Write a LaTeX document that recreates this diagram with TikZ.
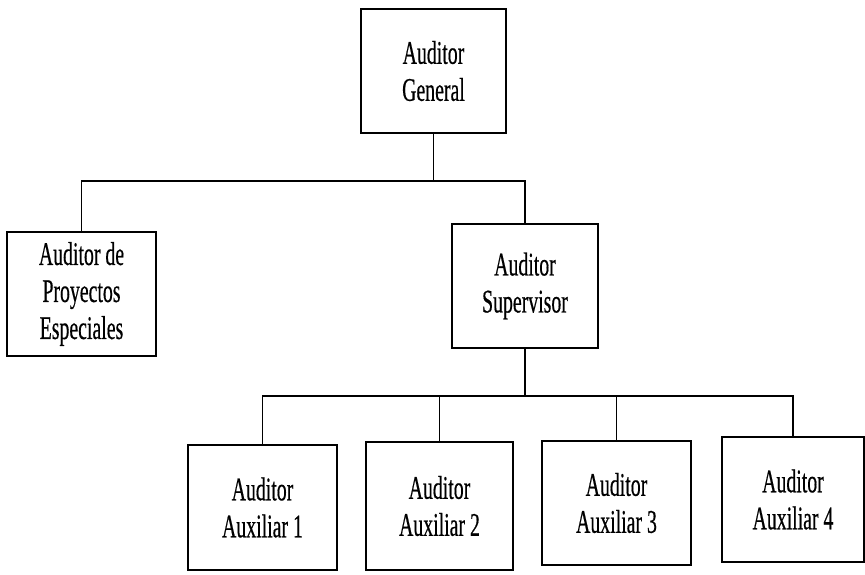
\documentclass[tikz,border=0pt]{standalone}
\usepackage{fontspec}
\usepackage{graphicx}
\setmainfont{Liberation Serif}[FakeBold=0.6]
\newcommand\squish[1]{\scalebox{0.6}[1]{#1}}
\tikzset{
  orgbox/.style={draw=black, line width=1.8pt, fill=white, inner sep=0pt,
    align=center, font=\fontsize{33}{37}\selectfont},
  link/.style={draw=black, line width=1.8pt, line cap=rect}
}
\begin{document}
\begin{tikzpicture}[x=1pt, y=-1pt]
\useasboundingbox (0,0) rectangle (865,574);
\fill[white] (0,0) rectangle (865,574);
\node[orgbox, minimum width=145pt, minimum height=124pt] (G) at (433.5,71)
  {\squish{Auditor}\\\squish{General}};
\node[orgbox, minimum width=149pt, minimum height=124pt] (P) at (81.5,294)
  {\squish{Auditor de}\\\squish{Proyectos}\\\squish{Especiales}};
\node[orgbox, minimum width=146pt, minimum height=124pt] (S) at (525,286)
  {\squish{Auditor}\\\squish{Supervisor}};
\node[orgbox, minimum width=149pt, minimum height=125pt] (A1) at (262.5,507.5)
  {\squish{Auditor}\\\squish{Auxiliar 1}};
\node[orgbox, minimum width=147pt, minimum height=128pt] (A2) at (439.5,506)
  {\squish{Auditor}\\\squish{Auxiliar 2}};
\node[orgbox, minimum width=149pt, minimum height=124pt] (A3) at (616.5,503)
  {\squish{Auditor}\\\squish{Auxiliar 3}};
\node[orgbox, minimum width=142pt, minimum height=125pt] (A4) at (793,499.5)
  {\squish{Auditor}\\\squish{Auxiliar 4}};
\coordinate (b1) at (0,181);
\coordinate (b2) at (0,396);
\draw[link] (G.south) -- (G.south |- b1);
\draw[link] (P.north) -- (P.north |- b1) -- (S.north |- b1) -- (S.north);
\draw[link] (S.south) -- (S.south |- b2);
\draw[link] (A1.north) -- (A1.north |- b2) -- (A4.north |- b2) -- (A4.north);
\draw[link] (A2.north) -- (A2.north |- b2);
\draw[link] (A3.north) -- (A3.north |- b2);
\end{tikzpicture}
\end{document}
